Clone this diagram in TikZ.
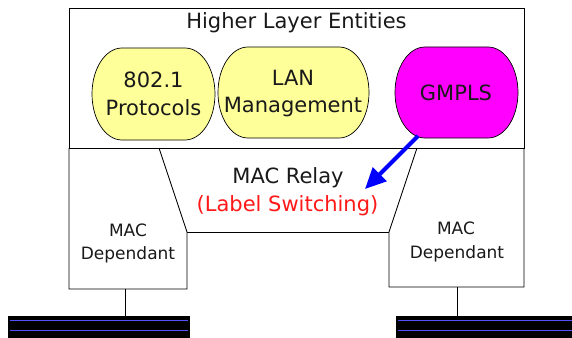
\documentclass[tikz,border=0pt]{standalone}
\usepackage{fontspec}
\setmainfont{DejaVu Sans}
\usetikzlibrary{arrows.meta}
\definecolor{blobyellow}{RGB}{255,255,153}
\definecolor{blobmag}{RGB}{255,0,255}
\definecolor{busblue}{RGB}{80,80,255}
\definecolor{lblred}{RGB}{255,25,25}
\definecolor{txt}{RGB}{25,25,25}
\newcommand{\myblob}[6]{% color, x1, y1, x2, y2, half height
  \filldraw[blobline, fill=#1] ({#2+30},{-#3}) -- ({#4-30},{-#3})
    arc[start angle=90,end angle=-90,x radius=30pt,y radius=#6pt]
    -- ({#2+30},{-#5})
    arc[start angle=270,end angle=90,x radius=30pt,y radius=#6pt] -- cycle;}
\begin{document}
\begin{tikzpicture}[x=1pt,y=1pt,
  blobline/.style={draw=black, line width=0.7pt},
  frame/.style={draw=black, line width=0.9pt},
  big/.style={font=\fontsize{21}{28}\selectfont, text=txt, inner sep=0pt, anchor=base},
  small/.style={font=\fontsize{17}{22}\selectfont, text=txt, inner sep=0pt, anchor=base},
  bus/.style={fill=black},
  busline/.style={draw=busblue, line width=0.8pt}]
\useasboundingbox (0,0) rectangle (572,-337);
\fill[white] (0,0) rectangle (572,-337);
% outer frame
\draw[frame] (69,-8) rectangle (524,-148);
% left MAC dependant
\draw[frame] (69,-148) -- (69,-289) -- (187,-289) -- (187,-232) -- (159,-148);
% right MAC dependant
\draw[frame] (524,-148) -- (524,-287) -- (389,-287) -- (389,-232) -- (417,-148);
% relay bottom
\draw[frame] (187,-232) -- (389,-232);
% blobs
\myblob{blobyellow}{92}{48}{215}{140}{46}
\myblob{blobyellow}{218}{47}{369}{138}{45.5}
\myblob{blobmag}{395}{47}{518}{138}{45.5}
% texts
\node[big] (hle) at (296.5,-29) {Higher Layer Entities};
\node[big] (p1) at (153.5,-87) {802.1};
\node[big] (p2) at (153.5,-115) {Protocols};
\node[big] (lan1) at (293,-85) {LAN};
\node[big] (lan2) at (293,-112) {Management};
\node[big] (gm) at (456,-100) {GMPLS};
\node[big] (relay) at (288,-183) {MAC Relay};
\node[big, text=lblred] (ls) at (287.5,-211) {(Label Switching)};
\node[small] (lm1) at (128,-236) {MAC};
\node[small] (lm2) at (128,-259) {Dependant};
\node[small] (rm1) at (456,-234) {MAC};
\node[small] (rm2) at (457,-258) {Dependant};
% arrow
\coordinate (gmout) at (418,-136);
\coordinate (relayin) at (365,-189);
\draw[draw=blue, line width=4pt, -{Triangle[length=21pt,width=19pt]}] (gmout) -- (relayin);
% buses
\fill[bus] (8,-316) rectangle (190,-340);
\draw[busline] (10,-320.5) -- (188,-320.5);
\draw[busline] (10,-330.5) -- (188,-330.5);
\fill[bus] (396,-316) rectangle (575,-340);
\draw[busline] (398,-320.5) -- (575,-320.5);
\draw[busline] (398,-330.5) -- (575,-330.5);
% connectors
\coordinate (lmb) at (125,-289);
\coordinate (lbus) at (125,-316);
\coordinate (rmb) at (457,-287);
\coordinate (rbus) at (457,-316);
\draw[frame] (lmb) -- (lbus);
\draw[frame] (rmb) -- (rbus);
\end{tikzpicture}
\end{document}
